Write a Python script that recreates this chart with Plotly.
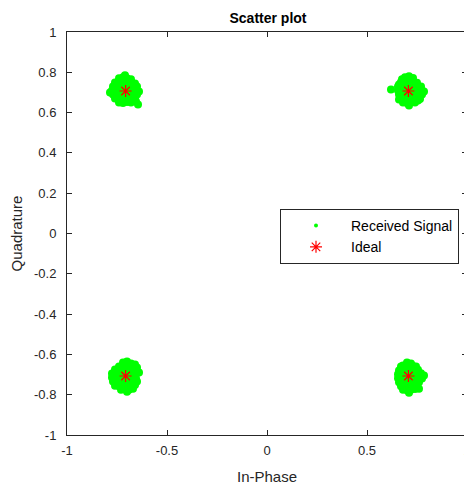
import plotly.graph_objects as go

# Received-signal points
rx_tl = [-0.74, -0.72, -0.70, -0.68, -0.76, -0.74, -0.72, -0.70, -0.68, -0.66,
         -0.77, -0.75, -0.73, -0.71, -0.69, -0.67, -0.65, -0.775, -0.755, -0.735,
         -0.715, -0.695, -0.675, -0.655, -0.64, -0.77, -0.75, -0.73, -0.71, -0.69,
         -0.67, -0.65, -0.76, -0.74, -0.72, -0.70, -0.68, -0.66, -0.74, -0.72,
         -0.70, -0.68, -0.655, -0.785, -0.71, -0.645]
ry_tl = [0.77, 0.775, 0.77, 0.765, 0.75, 0.755, 0.75, 0.752, 0.748, 0.745,
         0.73, 0.732, 0.728, 0.73, 0.733, 0.727, 0.73, 0.71, 0.708, 0.712,
         0.709, 0.711, 0.707, 0.71, 0.705, 0.69, 0.688, 0.692, 0.69, 0.687,
         0.691, 0.69, 0.67, 0.668, 0.671, 0.669, 0.672, 0.668, 0.65, 0.648,
         0.652, 0.65, 0.655, 0.70, 0.785, 0.64]

rx_tr = [0.69, 0.71, 0.73, 0.675, 0.67, 0.69, 0.71, 0.73, 0.75, 0.66,
         0.655, 0.675, 0.695, 0.715, 0.735, 0.755, 0.77, 0.655, 0.675, 0.695,
         0.715, 0.735, 0.755, 0.775, 0.62, 0.66, 0.68, 0.70, 0.72, 0.74,
         0.76, 0.775, 0.67, 0.69, 0.71, 0.73, 0.75, 0.765, 0.68, 0.70,
         0.72, 0.74, 0.71, 0.785, 0.755, 0.66]
ry_tr = [0.775, 0.78, 0.772, 0.765, 0.752, 0.755, 0.75, 0.753, 0.748, 0.74,
         0.73, 0.732, 0.729, 0.73, 0.733, 0.728, 0.73, 0.71, 0.708, 0.712,
         0.709, 0.711, 0.707, 0.71, 0.715, 0.69, 0.688, 0.692, 0.69, 0.687,
         0.691, 0.69, 0.67, 0.668, 0.671, 0.669, 0.672, 0.668, 0.65, 0.648,
         0.652, 0.65, 0.635, 0.705, 0.66, 0.665]

rx_bl = [-0.72, -0.70, -0.68, -0.74, -0.72, -0.70, -0.68, -0.66, -0.76, -0.74,
         -0.72, -0.70, -0.68, -0.66, -0.65, -0.775, -0.755, -0.735, -0.715, -0.695,
         -0.675, -0.655, -0.64, -0.775, -0.755, -0.735, -0.715, -0.695, -0.675, -0.655,
         -0.77, -0.75, -0.73, -0.71, -0.69, -0.67, -0.65, -0.76, -0.74, -0.72,
         -0.70, -0.68, -0.66, -0.73, -0.71, -0.69, -0.67, -0.70]
ry_bl = [-0.64, -0.635, -0.645, -0.66, -0.655, -0.658, -0.66, -0.65, -0.675, -0.68,
         -0.677, -0.68, -0.678, -0.675, -0.665, -0.695, -0.698, -0.693, -0.697, -0.695,
         -0.70, -0.694, -0.69, -0.715, -0.718, -0.713, -0.717, -0.715, -0.712, -0.718,
         -0.735, -0.738, -0.733, -0.737, -0.735, -0.732, -0.735, -0.755, -0.758, -0.753,
         -0.757, -0.755, -0.752, -0.775, -0.772, -0.776, -0.77, -0.785]

rx_br = [0.70, 0.72, 0.68, 0.67, 0.69, 0.71, 0.73, 0.745, 0.66, 0.68,
         0.70, 0.72, 0.74, 0.755, 0.655, 0.675, 0.695, 0.715, 0.735, 0.755,
         0.77, 0.655, 0.675, 0.695, 0.715, 0.735, 0.755, 0.775, 0.785, 0.66,
         0.68, 0.70, 0.72, 0.74, 0.76, 0.67, 0.69, 0.71, 0.73, 0.75,
         0.68, 0.70, 0.72, 0.74, 0.71, 0.76]
ry_br = [-0.64, -0.645, -0.655, -0.66, -0.658, -0.662, -0.657, -0.66, -0.68, -0.678,
         -0.682, -0.679, -0.68, -0.676, -0.698, -0.695, -0.70, -0.697, -0.695, -0.699,
         -0.694, -0.718, -0.715, -0.72, -0.716, -0.718, -0.714, -0.72, -0.705, -0.738,
         -0.735, -0.74, -0.737, -0.735, -0.738, -0.758, -0.755, -0.76, -0.757, -0.755,
         -0.775, -0.778, -0.775, -0.772, -0.79, -0.77]

rx = rx_tl + rx_tr + rx_bl + rx_br
ry = ry_tl + ry_tr + ry_bl + ry_br

# Ideal QPSK constellation points
ideal_x = [-0.7071, 0.7071, -0.7071, 0.7071]
ideal_y = [0.7071, 0.7071, -0.7071, -0.7071]

tick_vals_x = [-1, -0.5, 0, 0.5, 1]
tick_text_x = ["-1", "-0.5", "0", "0.5", "1"]
tick_vals_y = [-1, -0.8, -0.6, -0.4, -0.2, 0, 0.2, 0.4, 0.6, 0.8, 1]
tick_text_y = ["-1", "-0.8", "-0.6", "-0.4", "-0.2", "0", "0.2", "0.4", "0.6", "0.8", "1"]

GREEN = "#00ff00"
RED = "#ff0000"
DARK = "#262626"
FONT = "Liberation Sans, Arial, sans-serif"

# The page body has an 8px margin, so the figure is sized/offset to compensate
W, H = 464, 478
ML, MR, MT, MB = 59, 5, 24, 51
PW = W - ML - MR
PH = H - MT - MB

fig = go.Figure()
fig.add_trace(go.Scatter(x=rx, y=ry, mode="markers", showlegend=False, cliponaxis=False,
                         marker=dict(color=GREEN, size=8, line=dict(width=0))))
fig.add_trace(go.Scatter(x=[None], y=[None], mode="markers", name="Received Signal",
                         marker=dict(color=GREEN, size=4, line=dict(width=0))))
fig.add_trace(go.Scatter(x=ideal_x, y=ideal_y, mode="markers", name="Ideal",
                         marker=dict(symbol="asterisk-open", color=RED, size=10,
                                     line=dict(color=RED, width=1.2))))

axis_common = dict(showgrid=False, zeroline=False, showline=True, linecolor=DARK,
                   linewidth=1, mirror="ticks", ticks="inside", ticklen=5,
                   tickcolor=DARK, automargin=False, ticklabeloverflow="allow",
                   tickfont=dict(family=FONT, size=13, color=DARK))

fig.update_layout(
    width=W, height=H,
    margin=dict(l=ML, r=MR, t=MT, b=MB, autoexpand=False),
    paper_bgcolor="white", plot_bgcolor="white",
    title=dict(text="<b>Scatter plot</b>", x=260 / W, xanchor="center", y=1 - 10 / H,
               yanchor="middle", font=dict(family=FONT, size=14, color="black")),
    xaxis=dict(range=[-1, 1], tickvals=tick_vals_x, ticktext=tick_text_x,
               ticklabelstandoff=3,
               title=dict(text="In-Phase", standoff=14,
                          font=dict(family=FONT, size=15, color=DARK)),
               **axis_common),
    yaxis=dict(range=[-1, 1], tickvals=tick_vals_y, ticktext=tick_text_y,
               ticklabelstandoff=7,
               title=dict(text="Quadrature", standoff=14,
                          font=dict(family=FONT, size=15, color=DARK)),
               **axis_common),
    legend=dict(x=(272 - ML) / PW, y=(H - MB - 201) / PH, xanchor="left", yanchor="top",
                bgcolor="white", bordercolor=DARK, borderwidth=1, itemwidth=60,
                font=dict(family=FONT, size=14, color="black"),
                itemsizing="trace", tracegroupgap=0),
)

fig.write_html("out.html")
